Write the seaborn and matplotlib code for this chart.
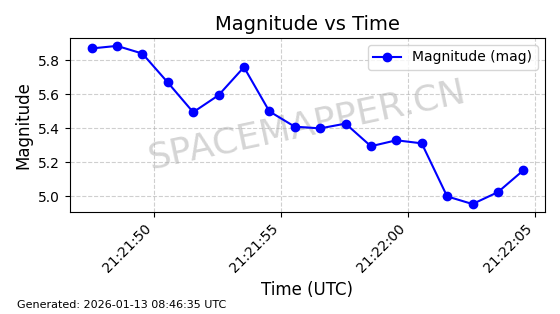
import matplotlib
matplotlib.use("Agg")
import matplotlib.pyplot as plt
import matplotlib.dates as mdates
from matplotlib.ticker import MultipleLocator
import seaborn as sns
import pandas as pd

# Data
start_time = "2026-01-13 21:21:47.55"
offsets_s = [0, 1, 2, 3, 4, 5, 6, 7, 8, 9, 10, 11, 12, 13, 14, 15, 16, 17]
magnitudes = [5.87, 5.885, 5.84, 5.67, 5.495, 5.595, 5.76, 5.50, 5.41,
              5.40, 5.428, 5.295, 5.33, 5.312, 5.00, 4.955, 5.025, 5.153]
title = "Magnitude vs Time"
x_label = "Time (UTC)"
y_label = "Magnitude"
legend_label = "Magnitude (mag)"
footer = "Generated: 2026-01-13 08:46:35 UTC"
watermark = "SPACEMAPPER.CN"

times = pd.Timestamp(start_time) + pd.to_timedelta(offsets_s, unit="s")
df = pd.DataFrame({"time": times, "mag": magnitudes})

fig, ax = plt.subplots(figsize=(5.6, 3.14), dpi=100)
sns.lineplot(data=df, x="time", y="mag", ax=ax, color="blue", marker="o",
             markersize=6, markeredgecolor="blue", markeredgewidth=1,
             linewidth=1.5, label=legend_label, zorder=3)

ax.text(0.5, 0.5, watermark, transform=ax.transAxes, fontsize=26,
        color="gray", alpha=0.33, ha="center", va="center", rotation=12,
        zorder=1)

ax.set_title(title, fontsize=14)
ax.set_xlabel(x_label, fontsize=12)
ax.set_ylabel(y_label, fontsize=12)
ax.grid(True, linestyle="--", alpha=0.6)
ax.yaxis.set_major_locator(MultipleLocator(0.2))
ax.xaxis.set_major_locator(mdates.SecondLocator(bysecond=range(0, 60, 5)))
ax.xaxis.set_major_formatter(mdates.DateFormatter("%H:%M:%S"))
plt.setp(ax.get_xticklabels(), rotation=45, ha="right")
ax.legend(loc="upper right")

fig.subplots_adjust(left=0.125, right=0.973, top=0.879, bottom=0.325)
fig.text(0.03, 0.02, footer, fontsize=8)
fig.savefig("out.png", dpi=100)
